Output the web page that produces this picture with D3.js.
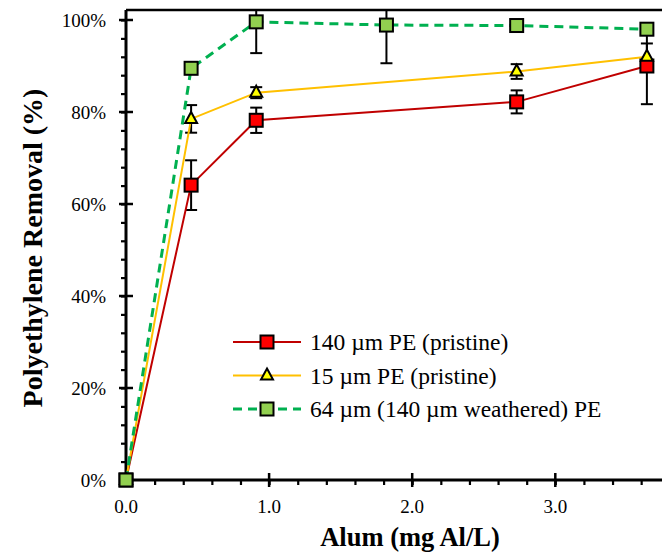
<!DOCTYPE html>
<html>
<head>
<meta charset="utf-8">
<script src="https://cdn.jsdelivr.net/npm/d3@7"></script>
<style>
  body { margin: 0; background: #fff; }
  svg { display: block; font-family: "Liberation Serif", "Times New Roman", serif; }
  svg text { font-family: "Liberation Serif", "Times New Roman", serif !important; }
</style>
</head>
<body>
<svg id="chart" width="662" height="556"></svg>
<script>
// alum dose (mg Al/L)
const dose = [0, 0.455, 0.91, 1.82, 2.73, 3.64]

// removal (%) and error bars for each series, null = not measured
const pe140 = [0, 64.1, 78.2, null, 82.2, 90.0]
const pe140Err = [0, 5.4, 2.75, null, 2.5, 8.3]
const pe15 = [0, 78.5, 84.2, null, 88.8, 92.0]
const pe15Err = [0, 3.0, 1.2, null, 1.6, 2.9]
const pe64 = [0, 89.5, 99.6, 98.9, 98.8, 98.0]
const pe64Err = [0, 0.8, 6.8, 8.3, 0.6, 0.6]

const xTicks = [0, 1, 2, 3]
const yTicks = [0, 20, 40, 60, 80, 100]

const series = [
  { name: '140 \u00b5m PE (pristine)', vals: pe140, err: pe140Err, line: '#C00000', fill: '#FF0000', shape: 'square', dash: null },
  { name: '15 \u00b5m PE (pristine)', vals: pe15, err: pe15Err, line: '#FFC000', fill: '#FFFF00', shape: 'triangle', dash: null },
  { name: '64 \u00b5m (140 \u00b5m weathered) PE', vals: pe64, err: pe64Err, line: '#00B050', fill: '#92D050', shape: 'square', dash: '9,6' }
]

const margin = { top: 10, left: 126, bottom: 76 }
const W = 662, H = 556

const svg = d3.select('#chart')

const x = d3.scaleLinear().domain([0, 4]).range([margin.left, margin.left + 4 * 143.1])
const y = d3.scaleLinear().domain([0, 100]).range([H - margin.bottom, H - margin.bottom - 460])
const yTop = margin.top

svg.append('defs').append('clipPath').attr('id', 'plotclip')
  .append('rect').attr('x', margin.left).attr('y', yTop).attr('width', W - margin.left).attr('height', y(0) - yTop)

// frame top line
svg.append('line')
  .attr('x1', margin.left).attr('x2', W).attr('y1', yTop).attr('y2', yTop)
  .attr('stroke', '#000').attr('stroke-width', 2.5)

// x axis: major ticks cross the line, minor ticks hang below
const xAxis = svg.append('g').attr('transform', `translate(0,${y(0)})`)
xAxis.call(d3.axisBottom(x).tickValues(d3.range(0, 4.01, 0.2)).tickSize(5).tickFormat(''))
xAxis.call(g => g.select('.domain').remove())
xAxis.selectAll('.tick line').attr('stroke-width', 2.2)
xTicks.forEach(t => {
  xAxis.append('line').attr('x1', x(t)).attr('x2', x(t)).attr('y1', -7).attr('y2', 7)
    .attr('stroke', '#000').attr('stroke-width', 2.5)
  xAxis.append('text').attr('x', x(t)).attr('y', 33).attr('text-anchor', 'middle').attr('fill', '#000')
    .style('font-size', '19px').text(d3.format('.1f')(t))
})
xAxis.append('line').attr('x1', margin.left).attr('x2', W).attr('stroke', '#000').attr('stroke-width', 3)

// y axis
const yAxis = svg.append('g').attr('transform', `translate(${margin.left},0)`)
yAxis.call(d3.axisLeft(y).tickValues(d3.range(0, 101, 4)).tickSize(5).tickFormat(''))
yAxis.call(g => g.select('.domain').remove())
yAxis.selectAll('.tick line').attr('stroke-width', 2.2)
yTicks.forEach(t => {
  yAxis.append('line').attr('x1', -7).attr('x2', 7).attr('y1', y(t)).attr('y2', y(t))
    .attr('stroke', '#000').attr('stroke-width', 2.5)
  yAxis.append('text').attr('x', -20).attr('y', y(t)).attr('dy', '0.35em').attr('text-anchor', 'end')
    .attr('fill', '#000').style('font-size', '19px').text(t + '%')
})
yAxis.append('line').attr('y1', y(0)).attr('y2', yTop).attr('stroke', '#000').attr('stroke-width', 3)

// axis titles
svg.append('text').attr('x', 410).attr('y', 546).attr('text-anchor', 'middle')
  .attr('font-size', 26.5).attr('font-weight', 'bold').text('Alum (mg Al/L)')
svg.append('text').attr('transform', `translate(42,${248}) rotate(-90)`).attr('text-anchor', 'middle')
  .attr('font-size', 28).attr('font-weight', 'bold').text('Polyethylene Removal (%)')

const plot = svg.append('g').attr('clip-path', 'url(#plotclip)')

const pts = s => dose.map((d, i) => ({ x: d, v: s.vals[i], e: s.err[i] })).filter(p => p.v != null)

// error bars
series.forEach(s => {
  pts(s).filter(p => p.e > 0).forEach(p => {
    const g = plot.append('g').attr('stroke', '#000').attr('stroke-width', 2)
    g.append('line').attr('x1', x(p.x)).attr('x2', x(p.x)).attr('y1', y(p.v - p.e)).attr('y2', y(p.v + p.e))
    ;[p.v - p.e, p.v + p.e].forEach(v => {
      g.append('line').attr('x1', x(p.x) - 6).attr('x2', x(p.x) + 6).attr('y1', y(v)).attr('y2', y(v))
    })
  })
})

// lines
const line = d3.line().x(p => x(p.x)).y(p => y(p.v))
series.forEach(s => {
  plot.append('path').datum(pts(s)).attr('d', line).attr('fill', 'none')
    .attr('stroke', s.line).attr('stroke-width', s.dash ? 3 : 2)
    .attr('stroke-dasharray', s.dash)
})

function marker(g, shape, fill, cx, cy) {
  if (shape === 'square') {
    g.append('rect').attr('x', cx - 6.5).attr('y', cy - 6.5).attr('width', 13).attr('height', 13)
      .attr('fill', fill).attr('stroke', '#000').attr('stroke-width', 2)
  } else {
    g.append('path').attr('d', `M${cx},${cy - 7}L${cx + 6},${cy + 4}L${cx - 6},${cy + 4}Z`)
      .attr('fill', fill).attr('stroke', '#000').attr('stroke-width', 2).attr('stroke-linejoin', 'miter')
  }
}

// markers
const mk = svg.append('g')
series.forEach(s => {
  pts(s).forEach(p => marker(mk, s.shape, s.fill, x(p.x), y(p.v)))
})

// legend
const legend = svg.append('g')
series.forEach((s, i) => {
  const ly = 342 + i * 33.5
  legend.append('line').attr('x1', 233).attr('x2', 301).attr('y1', ly).attr('y2', ly)
    .attr('stroke', s.line).attr('stroke-width', s.dash ? 3 : 2).attr('stroke-dasharray', s.dash)
  marker(legend, s.shape, s.fill, 267, ly)
  legend.append('text').attr('x', 310).attr('y', ly).attr('dy', '0.35em').attr('font-size', 23.5).text(s.name)
})
</script>
</body>
</html>
